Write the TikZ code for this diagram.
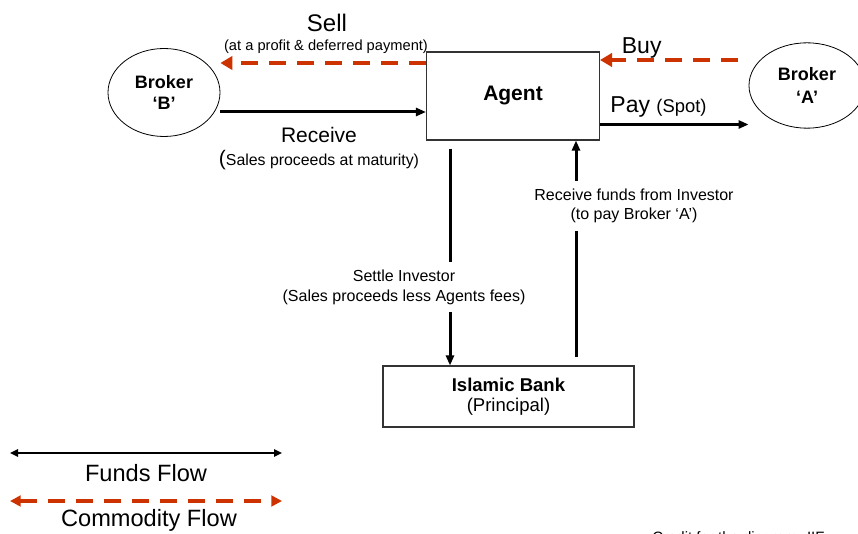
\documentclass[tikz,border=0pt]{standalone}
\usepackage{fontspec}
\setmainfont{Liberation Sans}
\usetikzlibrary{arrows.meta, shapes.geometric}
\definecolor{CommodityRed}{HTML}{CC3300}
\newcommand{\txtsize}[2]{\fontsize{#1}{#2}\selectfont}

\begin{document}
\begin{tikzpicture}[
        x=0.75pt, y=-0.75pt,
        party/.style={
            ellipse, draw=black, line width=0.6pt, inner sep=0pt, align=center,
            font=\txtsize{13.5pt}{15.75pt}\bfseries
        },
        box/.style={rectangle, draw=black!80, line width=0.8pt, inner sep=0pt, align=center},
        flowtext/.style={inner sep=0pt, align=center},
        funds/.style={line width=2.25pt, -{Triangle[length=7.5pt,width=6pt]}},
        commodity/.style={line width=3pt, color=CommodityRed, dash pattern=on 13pt off 8pt, -{Triangle[length=9pt,width=10pt]}},
        legendfunds/.style={line width=1.5pt, {Triangle[length=6pt,width=5.5pt]}-{Triangle[length=6pt,width=5.5pt]}},
        legendcommodity/.style={line width=2.5pt, color=CommodityRed, dash pattern=on 13pt off 8pt, {Triangle[length=8pt,width=8pt]}-{Triangle[length=8pt,width=8pt]}}
    ]
    \useasboundingbox (0,0) rectangle (858,534);

    % Parties
    \node (brokerB) [party, minimum width=84pt, minimum height=66pt] at (164, 92.5) {Broker\\‘B’};
    \node (agent) [box, minimum width=129.75pt, minimum height=66pt, font=\txtsize{15.75pt}{18pt}\bfseries] at (513, 96) {Agent};
    \node (brokerA) [party, minimum width=87pt, minimum height=64pt, font=\txtsize{13.5pt}{17pt}\bfseries] at (807, 85.5) {Broker\\‘A’};
    \node (bank) [box, minimum width=188.25pt, minimum height=45.75pt, font=\txtsize{13.9pt}{15pt}] at (508.5, 396.5) {\textbf{Islamic Bank}\\(Principal)};

    % Rows and columns of the flows
    \coordinate (sellrow) at (0, 63);
    \coordinate (buyrow) at (0, 60);
    \coordinate (receiverow) at (0, 112);
    \coordinate (payrow) at (0, 124.5);
    \coordinate (settlecol) at (450, 0);
    \coordinate (fundcol) at (576, 0);

    % Commodity flows
    \draw [commodity] (agent.west |- sellrow) -- (brokerB.east |- sellrow);
    \draw [commodity, shorten <=8pt] (brokerA.west |- buyrow) -- (agent.east |- buyrow);

    % Funds flows
    \draw [funds] (brokerB.east |- receiverow) -- (agent.west |- receiverow);
    \draw [funds] (agent.east |- payrow) -- (brokerA.west |- payrow);
    \draw [funds, shorten <=6pt] (agent.south -| settlecol) -- (bank.north -| settlecol);
    \draw [funds, shorten <=6pt] (bank.north -| fundcol) -- (agent.south -| fundcol);

    % Flow labels
    \node (selltext) [flowtext, font=\txtsize{18pt}{18pt}] at (327, 23) {Sell};
    \node (sellnote) [flowtext, font=\txtsize{11pt}{12pt}] at (326, 47) {(at a profit \& deferred payment)};
    \node (buytext) [flowtext, font=\txtsize{17.25pt}{18pt}] at (641.7, 48) {Buy};
    \node (receivetext) [flowtext, font=\txtsize{15.75pt}{16pt}] at (319, 135) {Receive};
    \node (receivenote) [flowtext, font=\txtsize{11.9pt}{12pt}] at (319, 160) {{\txtsize{15.75pt}{16pt}(}Sales proceeds at maturity)};
    \node (paytext) [flowtext, font=\txtsize{17.25pt}{18pt}] at (658.5, 107) {Pay {\txtsize{13.8pt}{14pt}(Spot)}};
    \node (settletext) [flowtext, fill=white, inner ysep=6pt, font=\txtsize{12pt}{15pt}] at (404, 287) {Settle Investor\\(Sales proceeds less Agents fees)};
    \node (fundtext) [flowtext, fill=white, inner ysep=6pt, font=\txtsize{12pt}{14.5pt}] at (634, 206) {Receive funds from Investor\\(to pay Broker ‘A’)};

    % Legend
    \coordinate (fundsleft) at (10, 453);
    \coordinate (fundsright) at (282, 453);
    \coordinate (commodityleft) at (10, 501);
    \coordinate (commodityright) at (282, 501);
    \draw [legendfunds] (fundsleft) -- (fundsright);
    \draw [legendcommodity] (commodityleft) -- (commodityright);
    \node (fundslegend) [flowtext, font=\txtsize{17.7pt}{18pt}] at (146, 473) {Funds Flow};
    \node (commoditylegend) [flowtext, font=\txtsize{17.7pt}{18pt}] at (149, 520) {Commodity Flow};

    % Credit line (cut at the bottom edge)
    \node (credit) [anchor=base west, inner sep=0pt, font=\txtsize{11.25pt}{12pt}] at (652, 543) {Credit for the diagram: IIF};

\end{tikzpicture}
\end{document}
